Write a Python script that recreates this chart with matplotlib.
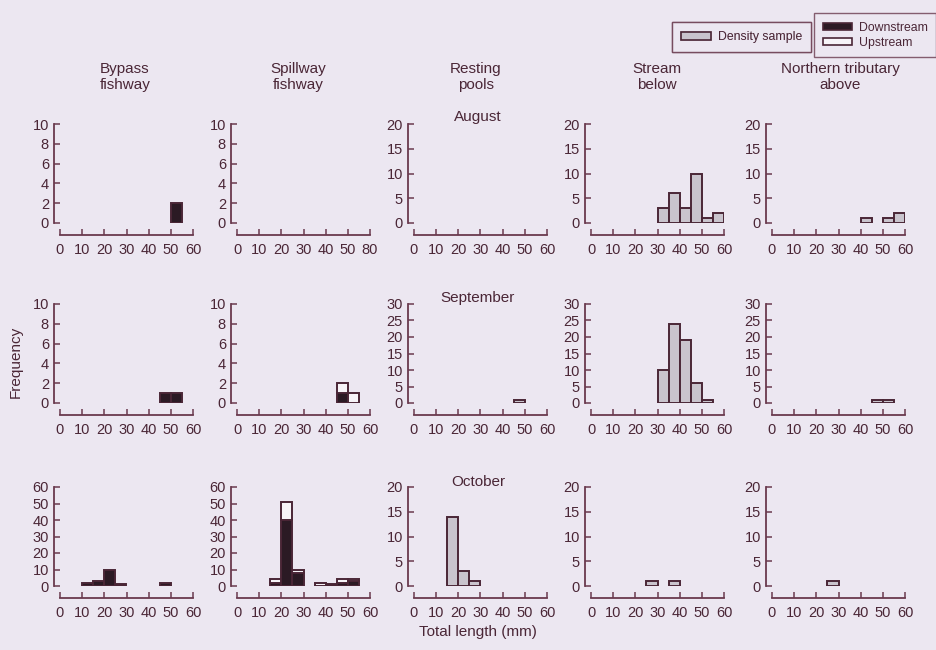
import numpy as np
import matplotlib
matplotlib.use("Agg")
import matplotlib.pyplot as plt
from matplotlib.patches import Patch

plt.rcParams['font.family'] = ['Liberation Sans', 'DejaVu Sans']

# ---------------- data ----------------
bin_left = np.arange(0, 60, 5)  # 5-mm length classes
bin_width = 5

col_titles = ["Bypass\nfishway", "Spillway\nfishway", "Resting\npools",
              "Stream\nbelow", "Northern tributary\nabove"]
months = ["August", "September", "October"]

x_ticks = [0, 10, 20, 30, 40, 50, 60]
x_labels = ["0", "10", "20", "30", "40", "50", "60"]
x_labels_spill_aug = ["0", "10", "20", "30", "40", "50", "80"]  # as printed

# August
aug_bypass_down = [0, 0, 0, 0, 0, 0, 0, 0, 0, 0, 2, 0]
aug_stream_density = [0, 0, 0, 0, 0, 0, 3, 6, 3, 10, 1, 2]
aug_north_density = [0, 0, 0, 0, 0, 0, 0, 0, 1, 0, 1, 2]
# September
sep_bypass_down = [0, 0, 0, 0, 0, 0, 0, 0, 0, 1, 1, 0]
sep_spill_down = [0, 0, 0, 0, 0, 0, 0, 0, 0, 1, 0, 0]
sep_spill_up = [0, 0, 0, 0, 0, 0, 0, 0, 0, 1, 1, 0]
sep_pools_density = [0, 0, 0, 0, 0, 0, 0, 0, 0, 1, 0, 0]
sep_stream_density = [0, 0, 0, 0, 0, 0, 10, 24, 19, 6, 1, 0]
sep_north_density = [0, 0, 0, 0, 0, 0, 0, 0, 0, 1, 1, 0]
# October
oct_bypass_down = [0, 0, 2, 3, 10, 1, 0, 0, 0, 2, 0, 0]
oct_spill_down = [0, 0, 0, 2, 40, 8, 0, 0, 1, 2, 3, 0]
oct_spill_up = [0, 0, 0, 2, 11, 2, 0, 2, 0, 2, 1, 0]
oct_pools_density = [0, 0, 0, 14, 3, 1, 0, 0, 0, 0, 0, 0]
oct_stream_density = [0, 0, 0, 0, 0, 1, 0, 1, 0, 0, 0, 0]
oct_north_density = [0, 0, 0, 0, 0, 1, 0, 0, 0, 0, 0, 0]

# y-axis maxima and tick steps per panel [row][col]
y_max = [[10, 10, 20, 20, 20], [10, 10, 30, 30, 30], [60, 60, 20, 20, 20]]
y_step = [[2, 2, 5, 5, 5], [2, 2, 5, 5, 5], [10, 10, 5, 5, 5]]

# panels: (down, up, density)
panels = [
    [(aug_bypass_down, None, None), (None, None, None), (None, None, None),
     (None, None, aug_stream_density), (None, None, aug_north_density)],
    [(sep_bypass_down, None, None), (sep_spill_down, sep_spill_up, None),
     (None, None, sep_pools_density), (None, None, sep_stream_density),
     (None, None, sep_north_density)],
    [(oct_bypass_down, None, None), (oct_spill_down, oct_spill_up, None),
     (None, None, oct_pools_density), (None, None, oct_stream_density),
     (None, None, oct_north_density)],
]

# ---------------- style ----------------
BG = "#ece7f1"
INK = "#4a2636"
AXC = "#6a3a4e"
DOWN = "#2b1a24"
DENS = "#c9c4cd"
UP = "#f7f4f8"

W, H = 936, 650
fig = plt.figure(figsize=(W / 100, H / 100), dpi=100, facecolor=BG)

col_left = [60, 237, 414, 591, 772]
row_top = [124, 304, 487]
ax_w, ax_h = 133, 99

def px_axes(x0, ytop, w, h):
    return fig.add_axes([x0 / W, 1 - (ytop + h) / H, w / W, h / H])

for r in range(3):
    for c in range(5):
        ax = px_axes(col_left[c], row_top[r], ax_w, ax_h)
        ax.set_facecolor("none")
        down, up, dens = panels[r][c]
        if dens is not None:
            ax.bar(bin_left, dens, width=bin_width, align='edge', color=DENS,
                   edgecolor=INK, linewidth=1.4)
        if down is not None:
            ax.bar(bin_left, down, width=bin_width, align='edge', color=DOWN,
                   edgecolor=INK, linewidth=1.4)
        if up is not None:
            ax.bar(bin_left, up, width=bin_width, align='edge',
                   bottom=down if down is not None else 0, color=UP,
                   edgecolor=INK, linewidth=1.4)
        ax.set_xlim(0, 60)
        ax.set_ylim(0, y_max[r][c])
        ax.set_xticks(x_ticks)
        ax.set_xticklabels(x_labels_spill_aug if (r == 0 and c == 1) else x_labels)
        ax.set_yticks(np.arange(0, y_max[r][c] + 1, y_step[r][c]))
        for s in ("top", "right"):
            ax.spines[s].set_visible(False)
        ax.spines["left"].set_position(("outward", 4))
        ax.spines["bottom"].set_position(("outward", 8.5))
        for s in ("left", "bottom"):
            ax.spines[s].set_color(AXC)
            ax.spines[s].set_linewidth(1.3)
        ax.tick_params(direction="in", length=4, width=1.1, color=AXC,
                       labelcolor=INK, labelsize=10.5)
        ax.tick_params(axis="y", pad=4)
        ax.tick_params(axis="x", pad=6)
        for b in ax.patches:
            if b.get_height() == 0:
                b.set_visible(False)

# column titles
title_x = [125, 298, 476, 657, 840]
for c, t in enumerate(col_titles):
    fig.text(title_x[c] / W, 1 - 77 / H, t, ha="center", va="center",
             fontsize=11, color=INK, linespacing=1.1)

# month labels
month_y = [117, 298, 482]
for r, m in enumerate(months):
    fig.text(478 / W, 1 - month_y[r] / H, m, ha="center", va="center",
             fontsize=11, color=INK)

fig.text(16 / W, 1 - 362 / H, "Frequency", rotation=90, ha="center",
         va="center", fontsize=11, color=INK)
fig.text(478 / W, 1 - 632 / H, "Total length (mm)", ha="center",
         va="center", fontsize=11, color=INK)

# legends
h_dens = Patch(facecolor=DENS, edgecolor=INK, linewidth=1.2)
h_down = Patch(facecolor=DOWN, edgecolor=INK, linewidth=1.2)
h_up = Patch(facecolor=UP, edgecolor=INK, linewidth=1.2)

leg1 = fig.legend([h_dens], ["Density sample"], loc="upper right",
                  bbox_to_anchor=(811 / W, 1 - 22 / H), fontsize=8.8,
                  fancybox=False, handlelength=2.5, handleheight=0.55,
                  handletextpad=0.5, borderpad=0.75, borderaxespad=0,
                  frameon=True)
leg2 = fig.legend([h_down, h_up], ["Downstream", "Upstream"],
                  loc="upper left", bbox_to_anchor=(814 / W, 1 - 13 / H),
                  fontsize=8.8, fancybox=False, handlelength=2.4,
                  handleheight=0.55, handletextpad=0.55, borderpad=0.7,
                  labelspacing=0.25, borderaxespad=0, frameon=True)
for leg in (leg1, leg2):
    fr = leg.get_frame()
    fr.set_edgecolor(AXC)
    fr.set_facecolor(BG)
    fr.set_linewidth(1.0)
    for t in leg.get_texts():
        t.set_color(INK)
fig.add_artist(leg1)

fig.savefig("out.png", dpi=100, facecolor=BG)
